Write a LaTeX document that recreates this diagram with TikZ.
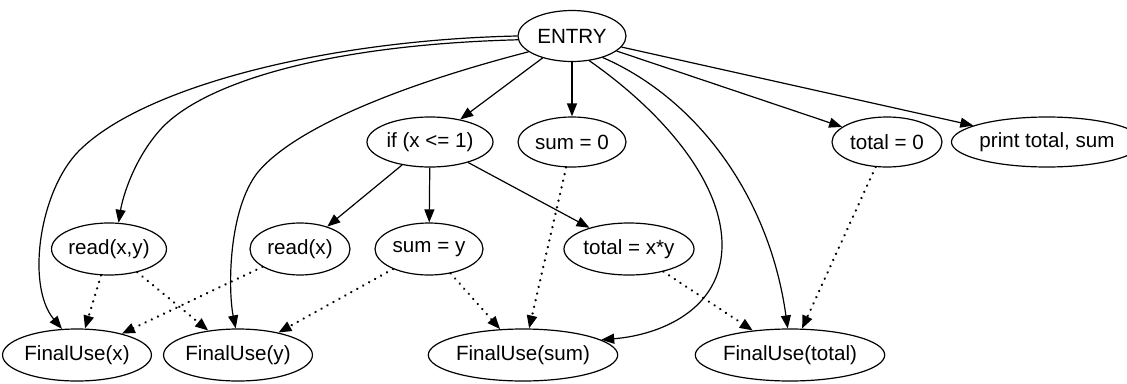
\documentclass[tikz,border=0pt]{standalone}
\usepackage{fontspec}
\setmainfont{Liberation Sans}
\usetikzlibrary{shapes.geometric,arrows.meta}
\begin{document}
\begin{tikzpicture}[x=1pt,y=1pt,
  nd/.style={ellipse,draw,line width=1.2pt,inner sep=0pt,
    font=\fontsize{20.6}{24}\selectfont},
  arr/.style={line width=1.2pt,-{Triangle[length=13pt,width=10pt]}},
  dep/.style={arr,line cap=round,dash pattern=on 0.01pt off 6.8pt,line width=2.6pt},
]
\useasboundingbox (0,0) rectangle (1127,-383);
\node[nd,minimum width=108pt,minimum height=51pt] (entry) at (572,-36) {ENTRY};
\node[nd,minimum width=126pt,minimum height=50pt] (if) at (430,-142) {if (x <= 1)};
\node[nd,minimum width=108pt,minimum height=50pt] (s0) at (572,-142) {sum = 0};
\node[nd,minimum width=110pt,minimum height=50pt] (t0) at (887,-142) {total = 0};
\node[nd,minimum width=160pt,minimum height=50pt] (pr) at (1047,-142) {print total, sum};
\node[nd,minimum width=114pt,minimum height=52pt] (rxy) at (109,-249) {read(x,y)};
\node[nd,minimum width=100pt,minimum height=52pt] (rx) at (300,-249) {read(x)};
\node[nd,minimum width=108pt,minimum height=52pt] (sy) at (429,-249) {sum = y};
\node[nd,minimum width=130pt,minimum height=52pt] (txy) at (629,-249) {total = x*y};
\node[nd,minimum width=136pt,minimum height=52pt] (fx) at (77,-355) {FinalUse(x)};
\node[nd,minimum width=134pt,minimum height=52pt] (fy) at (238,-355) {FinalUse(y)};
\node[nd,minimum width=160pt,minimum height=52pt] (fs) at (523,-355) {FinalUse(sum)};
\node[nd,minimum width=166pt,minimum height=52pt] (ft) at (790,-355) {FinalUse(total)};
% straight control edges
\draw[arr] (entry) -- (if);
\draw[arr] (entry) -- (s0);
\draw[arr] (entry) -- (t0);
\draw[arr] (entry) -- (pr);
\draw[arr] (if) -- (rx);
\draw[arr] (if) -- (sy);
\draw[arr] (if) -- (txy);
% curved control edges
\draw[arr] (entry.180) .. controls (330,-40) and (150,-85) .. (83,-147)
  .. controls (40,-185) and (25,-285) .. (fx.120);
\draw[arr] (entry.184) .. controls (320,-45) and (200,-85) .. (160,-130)
  .. controls (135,-158) and (123,-195) .. (rxy.70);
\draw[arr] (entry.200) .. controls (400,-85) and (295,-128) .. (258,-172)
  .. controls (228,-210) and (228,-290) .. (fy.95);
\draw[arr] (entry.-55) .. controls (660,-110) and (722,-180) .. (722,-245)
  .. controls (722,-310) and (660,-335) .. (fs.11);
\draw[arr] (entry.-35) .. controls (700,-100) and (770,-200) .. (ft.95);
% dotted data edges
\draw[dep] (rxy) -- (fx);
\draw[dep] (rxy) -- (fy);
\draw[dep] (rx) -- (fx);
\draw[dep] (sy) -- (fy);
\draw[dep] (sy) -- (fs);
\draw[dep] (s0) -- (fs);
\draw[dep] (txy) -- (ft);
\draw[dep] (t0) -- (ft);
\end{tikzpicture}
\end{document}
